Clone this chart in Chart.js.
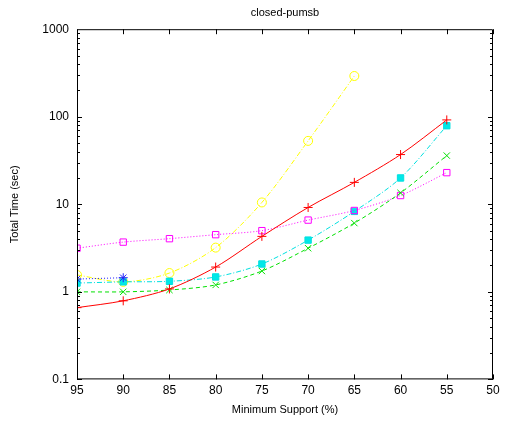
<!DOCTYPE html>
<html>
<head>
<meta charset="utf-8">
<script src="https://cdn.jsdelivr.net/npm/chart.js@4/dist/chart.umd.min.js"></script>
<style>
  html, body { margin: 0; padding: 0; background: #fff; }
  #wrap { width: 506px; height: 423px; }
</style>
</head>
<body>
<div id="wrap"><canvas id="chart" width="506" height="423"></canvas></div>
<script>
const supports = [95, 90, 85, 80, 75, 70, 65, 60, 55];
const redTimes = [0.66, 0.79, 1.08, 1.92, 4.3, 9.2, 17.8, 37, 92];
const greenTimes = [1.0, 1.0, 1.05, 1.2, 1.73, 3.15, 6.1, 13.5, 36];
const blueTimes = [1.4, 1.45];
const magentaTimes = [3.15, 3.7, 4.05, 4.5, 5.0, 6.6, 8.5, 12.6, 23];
const cyanTimes = [1.26, 1.3, 1.32, 1.48, 2.08, 3.9, 8.3, 20, 79];
const yellowTimes = [1.56, 1.3, 1.64, 3.2, 10.5, 53, 292];
const xTicks = [95, 90, 85, 80, 75, 70, 65, 60, 55, 50];
const yTicks = [0.1, 1, 10, 100, 1000];

const FONT = "'Liberation Sans', Arial, sans-serif";

function pts(values) {
  return values.map((v, i) => ({ x: supports[i], y: v }));
}

function series(values, color, style, dash, fill) {
  return {
    data: pts(values),
    borderColor: color,
    backgroundColor: fill,
    borderWidth: 1,
    borderDash: dash,
    pointStyle: style,
    pointRadius: 4.5,
    pointBorderColor: color,
    pointBackgroundColor: fill,
    pointBorderWidth: 1,
    tension: 0.3,
    fill: false,
  };
}

// inward tick marks and frame, like the original plot
const frameTicks = {
  id: "frameTicks",
  afterDatasetsDraw(chart) {
    const { ctx, chartArea: a, scales } = chart;
    const x = scales.x, y = scales.y;
    ctx.save();
    ctx.strokeStyle = "#000";
    ctx.lineWidth = 1;
    ctx.beginPath();
    ctx.rect(a.left + 0.5, a.top + 0.5, a.right - a.left - 1, a.bottom - a.top - 1);
    xTicks.forEach(t => {
      const px = Math.round(x.getPixelForValue(t)) + 0.5;
      ctx.moveTo(px, a.bottom); ctx.lineTo(px, a.bottom - 5);
      ctx.moveTo(px, a.top); ctx.lineTo(px, a.top + 5);
    });
    for (let d = 0.1; d < 1000; d *= 10) {
      for (let m = 1; m < 10; m++) {
        const v = d * m;
        const py = Math.round(y.getPixelForValue(v)) + 0.5;
        const len = m === 1 ? 5 : 3;
        ctx.moveTo(a.left, py); ctx.lineTo(a.left + len, py);
        ctx.moveTo(a.right, py); ctx.lineTo(a.right - len, py);
      }
    }
    ctx.stroke();
    ctx.restore();
  },
};

new Chart(document.getElementById("chart"), {
  type: "line",
  data: {
    datasets: [
      series(redTimes, "#ff0000", "cross", [], "#ff0000"),
      series(greenTimes, "#00e000", "crossRot", [4, 3], "#00e000"),
      series(blueTimes, "#2020ff", "star", [1, 2], "#2020ff"),
      series(magentaTimes, "#ff00ff", "rect", [1, 2], "rgba(0,0,0,0)"),
      series(cyanTimes, "#00e0e0", "rect", [5, 2, 1, 2], "#00e8e8"),
      series(yellowTimes, "#ffff00", "circle", [5, 2, 1, 2], "rgba(0,0,0,0)"),
    ],
  },
  options: {
    responsive: false,
    animation: false,
    layout: { padding: { left: 0, right: 13, top: 0, bottom: 0 } },
    plugins: {
      legend: { display: false },
      tooltip: { enabled: false },
      title: {
        display: true,
        text: "closed-pumsb",
        fullSize: false,
        color: "#000",
        font: { family: FONT, size: 11, weight: "normal" },
        padding: { top: 6, bottom: 10 },
      },
    },
    scales: {
      x: {
        type: "linear",
        reverse: true,
        min: 50,
        max: 95,
        grid: { display: false, drawTicks: false },
        border: { display: false },
        afterBuildTicks: s => { s.ticks = xTicks.map(v => ({ value: v })); },
        ticks: {
          color: "#000",
          font: { family: FONT, size: 12 },
          padding: 4,
          maxRotation: 0,
          autoSkip: false,
        },
        title: {
          display: true,
          text: "Minimum Support (%)",
          color: "#000",
          font: { family: FONT, size: 11 },
          padding: { top: 2, bottom: 6 },
        },
      },
      y: {
        type: "logarithmic",
        min: 0.1,
        max: 1000,
        grid: { display: false, drawTicks: false },
        border: { display: false },
        afterBuildTicks: s => { s.ticks = yTicks.map(v => ({ value: v })); },
        afterFit: s => { s.width = 77; },
        ticks: {
          color: "#000",
          font: { family: FONT, size: 12 },
          padding: 8,
          autoSkip: false,
          callback: v => String(v),
        },
        title: {
          display: true,
          text: "Total Time (sec)",
          color: "#000",
          font: { family: FONT, size: 11 },
          padding: { top: 8, bottom: 0 },
        },
      },
    },
  },
  plugins: [frameTicks],
});
</script>
</body>
</html>
